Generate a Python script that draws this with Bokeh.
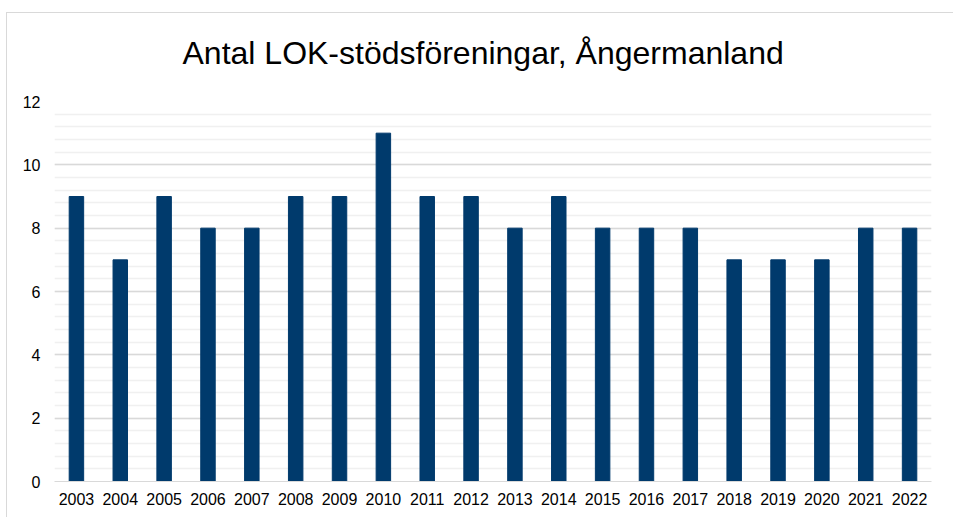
from bokeh.plotting import figure
from bokeh.models import FactorRange, Range1d, SingleIntervalTicker, Title
from bokeh.embed import file_html
from bokeh.resources import INLINE

years = ["2003", "2004", "2005", "2006", "2007", "2008", "2009", "2010", "2011", "2012",
         "2013", "2014", "2015", "2016", "2017", "2018", "2019", "2020", "2021", "2022"]
counts = [9, 7, 9, 8, 8, 9, 9, 11, 9, 9, 8, 9, 8, 8, 8, 7, 7, 7, 8, 8]
title_text = "Antal LOK-stödsföreningar, Ångermanland"

p = figure(width=953, height=517, x_range=FactorRange(factors=years, range_padding=0),
           y_range=Range1d(0, 12), output_backend="svg", toolbar_location=None,
           min_border_left=54, min_border_right=22, min_border_top=101, min_border_bottom=36)
p.styles = {
    "background-color": "white",
    "background-image": "linear-gradient(#d9d9d9,#d9d9d9), linear-gradient(#d9d9d9,#d9d9d9)",
    "background-size": "1px 100%, 100% 1px",
    "background-position": "6px 12px, 6px 12px",
    "background-repeat": "no-repeat",
}

t = Title(text=title_text, align="left", text_font="Liberation Sans", text_font_size="32px",
          text_font_style="normal", text_color="#000000", offset=128, standoff=62)
p.add_layout(t, "above")
p.title.visible = False

p.vbar(x=years, top=counts, width=0.33, color="#003a6c")

p.outline_line_color = None
p.background_fill_color = "white"
p.border_fill_color = None

p.yaxis.ticker = SingleIntervalTicker(interval=2, num_minor_ticks=5)
p.yaxis.axis_line_color = None
p.yaxis.major_tick_line_color = None
p.yaxis.minor_tick_line_color = None
p.yaxis.major_label_text_font = "Liberation Sans"
p.yaxis.major_label_text_font_size = "16px"
p.yaxis.major_label_text_color = "#000000"
p.yaxis.major_label_standoff = 8

p.xaxis.axis_line_color = "#d9d9d9"
p.xaxis.major_tick_line_color = None
p.xaxis.minor_tick_line_color = None
p.xaxis.major_label_text_font = "Liberation Sans"
p.xaxis.major_label_text_font_size = "16px"
p.xaxis.major_label_text_color = "#000000"
p.xaxis.major_label_standoff = 5

p.xgrid.grid_line_color = None
p.ygrid.grid_line_color = "#d9d9d9"
p.ygrid.grid_line_width = 1.5
p.ygrid.minor_grid_line_color = "#f0f0f0"
p.ygrid.minor_grid_line_width = 1.5

open("out.html", "w").write(file_html(p, INLINE))
